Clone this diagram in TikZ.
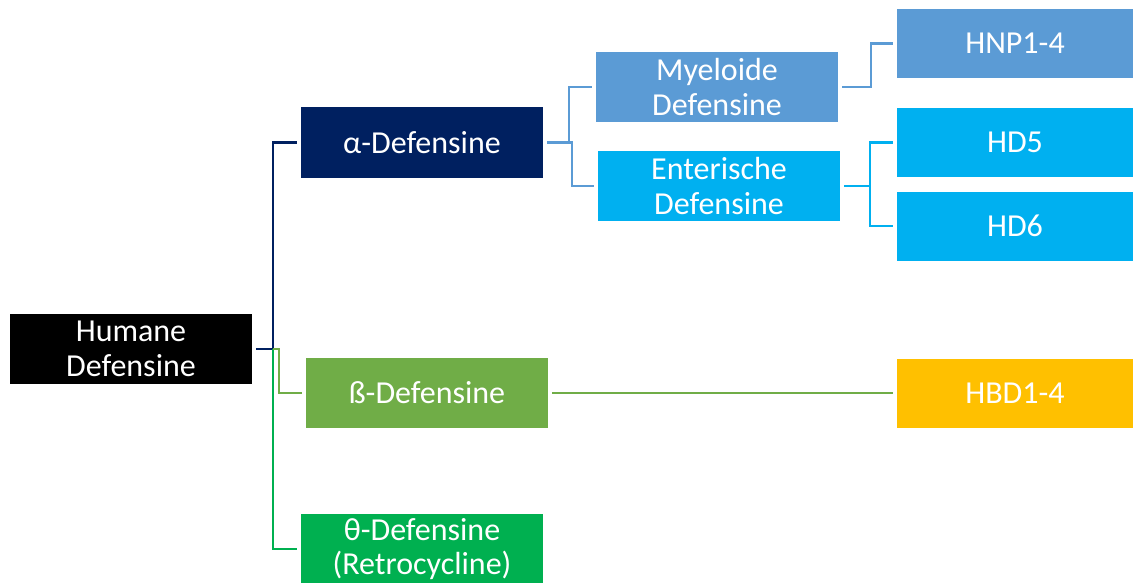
\documentclass[tikz,border=0pt]{standalone}
\usepackage{fontspec}
\setmainfont{Carlito}
\usetikzlibrary{calc}

\definecolor{navyblue}{HTML}{002060}
\definecolor{leafgreen}{HTML}{70AD47}
\definecolor{brightgreen}{HTML}{00B050}
\definecolor{steelblue}{HTML}{5B9BD5}
\definecolor{skyblue}{HTML}{00B0F0}
\definecolor{goldyellow}{HTML}{FFC000}

\begin{document}
\begin{tikzpicture}[x=0.5pt,y=-0.5pt,
        box/.style={fill=#1,text=white,minimum width=121pt,minimum height=35pt,
          align=center,outer sep=2pt,inner sep=0pt,
          font=\fontsize{16}{17.2}\selectfont},
        leaf/.style={box=#1,minimum width=118pt,minimum height=34.5pt},
        link/.style={draw=#1,line width=1.1pt}]
        \useasboundingbox (0,0) rectangle (1134,583);

        \node[box=black] (root) at (131,349) {Humane\\Defensine};
        \node[box=navyblue] (alpha) at (422,142.5) {α-Defensine};
        \node[box=leafgreen] (beta) at (427,393) {ß-Defensine};
        \node[box=brightgreen] (theta) at (422,549) {θ-Defensine\\(Retrocycline)};
        \node[box=steelblue] (myelo) at (717,87) {Myeloide\\Defensine};
        \node[box=skyblue] (enter) at (719,186) {Enterische\\Defensine};
        \node[leaf=steelblue] (hnp) at (1015,43.5) {HNP1-4};
        \node[leaf=skyblue] (hdfive) at (1015,142.5) {HD5};
        \node[leaf=skyblue] (hdsix) at (1015,226) {HD6};
        \node[leaf=goldyellow] (hbd) at (1015,393) {HBD1-4};

        \draw[link=navyblue] (root.east) -- ++(17,0) |- (alpha.west);
        \draw[link=brightgreen] (root.east) ++(17,0) |- (theta.west);
        \draw[link=leafgreen] (root.east) ++(17,0) -- ++(6,0) |- (beta.west);
        \draw[link=steelblue] (alpha.east) -- ++(22,0) |- (myelo.west);
        \draw[link=steelblue] (alpha.east) ++(22,0) -- ++(3,0) |- (enter.west);
        \draw[link=steelblue] (myelo.east) -- ++(29,0) |- (hnp.west);
        \draw[link=skyblue] (enter.east) -- ++(26,0) |- (hdfive.west);
        \draw[link=skyblue] (enter.east) ++(26,0) |- (hdsix.west);
        \draw[link=leafgreen] (beta.east) -- (hbd.west);
      \end{tikzpicture}
\end{document}
